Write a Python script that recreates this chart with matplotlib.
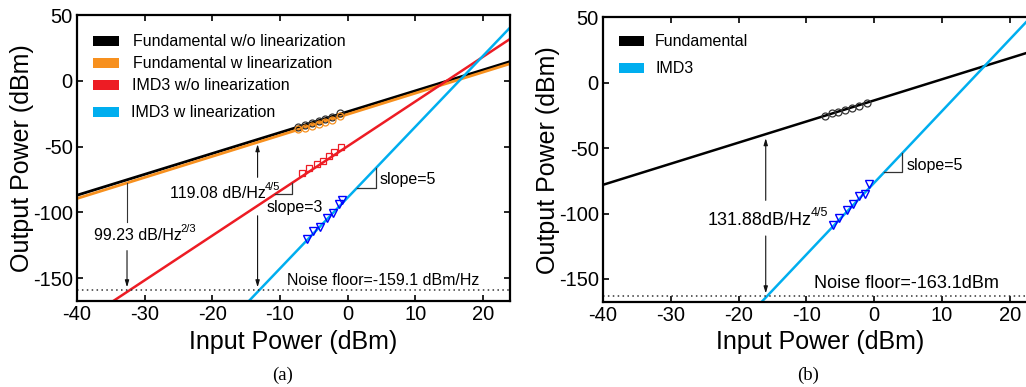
import numpy as np
import matplotlib
matplotlib.use('Agg')
import matplotlib.pyplot as plt
from matplotlib.patches import Rectangle

plt.rcParams['font.family'] = ['Liberation Sans', 'DejaVu Sans']
plt.rcParams['axes.unicode_minus'] = False

# ---- panel (a) data ----
a_fund_wo_x = [-40, 24]
a_fund_wo_y = [-87.0, 14.6]
a_fund_w_x = [-40, 24]
a_fund_w_y = [-89.5, 13.0]
a_imd_wo_x = [-34.5, 24]
a_imd_wo_y = [-167.0, 31.8]
a_imd_w_x = [-14.5, 24]
a_imd_w_y = [-167.0, 40.4]

a_circ_x = [-7.26, -6.27, -5.30, -4.26, -3.27, -2.30, -1.11]
a_circ_wo_y = [-34.8, -33.5, -32.2, -30.5, -29.0, -27.2, -24.6]
a_circ_w_y = [-37.0, -35.8, -34.5, -32.8, -31.3, -29.5, -27.0]
a_sq_x = [-6.67, -5.63, -4.45, -3.57, -2.68, -1.95, -0.91]
a_sq_y = [-70.1, -66.3, -63.2, -60.9, -57.1, -54.1, -50.3]
a_tri_x = [-6.03, -5.14, -4.06, -3.08, -2.20, -1.31, -0.82]
a_tri_y = [-120.6, -114.2, -111.0, -104.6, -100.8, -93.7, -90.6]
a_noise = -159.1

# ---- panel (b) data ----
b_fund_x = [-40, 24]
b_fund_y = [-78.0, 25.3]
b_imd_x = [-16.6, 24]
b_imd_y = [-167.5, 55.2]
b_circ_x = [-7.26, -6.27, -5.28, -4.28, -3.30, -2.18, -1.09]
b_circ_y = [-25.2, -23.4, -22.2, -20.9, -19.1, -17.9, -15.8]
b_tri_x = [-6.03, -5.15, -4.06, -3.08, -2.20, -1.36, -0.72]
b_tri_y = [-108.9, -103.7, -96.9, -92.3, -86.7, -85.2, -77.7]
b_noise = -163.1

BLACK = '#000000'
ORANGE = '#f7901e'
RED = '#ed1c24'
CYAN = '#00aeef'
BLUE = '#0000ff'
ARROW = dict(arrowstyle='-|>,head_length=0.4,head_width=0.12', color='#111111', lw=0.8)


def line_at(xs, ys, x):
    # straight line through the two end points
    return ys[0] + (x - xs[0]) * (ys[1] - ys[0]) / (xs[1] - xs[0])


def style_axes(ax, ylim):
    ax.set_xlim(-40, 24)
    ax.set_ylim(*ylim)
    ax.set_xticks(np.arange(-40, 21, 10))
    ax.set_yticks(np.arange(-150, 51, 50))
    ax.tick_params(direction='in', top=True, right=True, length=4, width=1.2,
                   labelsize=14.5, pad=3)
    for s in ax.spines.values():
        s.set_linewidth(1.6)
    ax.set_xlabel('Input Power (dBm)', fontsize=18)
    ax.set_ylabel('Output Power (dBm)', fontsize=18)
    ax.yaxis.set_label_coords(-0.10, 0.5)
    ax.xaxis.set_label_coords(0.5, -0.10)


def slope_mark(ax, xs, ys, x0, dx, text, tx, ty, size=11.5):
    y0 = line_at(xs, ys, x0)
    y1 = line_at(xs, ys, x0 + dx)
    ax.plot([x0, x0 + dx, x0 + dx], [y0, y0, y1], color='#333333', lw=0.9)
    ax.text(tx, ty, text, fontsize=size, va='center', ha='left')


def legend_rows(ax, rows):
    for color, label, y, x0, x1, xt in rows:
        ax.add_patch(Rectangle((x0, y - 0.017), x1 - x0, 0.034, transform=ax.transAxes,
                               facecolor=color, edgecolor='none', clip_on=False))
        ax.text(xt, y, label, transform=ax.transAxes, fontsize=11.5, va='center', ha='left')


def sup_text(ax, x, y, main, sup, size, supsize):
    t = ax.text(x, y, main, fontsize=size, va='center', ha='left')
    ax.annotate(sup, xy=(0.99, 0.55), xycoords=t, fontsize=supsize, va='bottom', ha='left')
    return t


fig = plt.figure(figsize=(10.26, 3.87), dpi=100)
ax1 = fig.add_axes([0.0750, 0.222, 0.422, 0.739])
ax2 = fig.add_axes([0.5877, 0.220, 0.423, 0.735])

# ---------------- (a) ----------------
ax1.plot(a_fund_wo_x, a_fund_wo_y, color=BLACK, lw=2)
ax1.plot(a_fund_w_x, a_fund_w_y, color=ORANGE, lw=2)
ax1.plot(a_imd_wo_x, a_imd_wo_y, color=RED, lw=1.8)
ax1.plot(a_imd_w_x, a_imd_w_y, color=CYAN, lw=1.8)
ax1.plot(a_circ_x, a_circ_wo_y, 'o', mfc='none', mec='#333333', ms=5, mew=0.9)
ax1.plot(a_circ_x, a_circ_w_y, 'o', mfc='none', mec=ORANGE, ms=5, mew=0.9)
ax1.plot(a_sq_x, a_sq_y, 's', mfc='none', mec=RED, ms=4.5, mew=0.9)
ax1.plot(a_tri_x, a_tri_y, 'v', mfc='none', mec=BLUE, ms=5.5, mew=1.0)
ax1.axhline(a_noise, color='#333333', ls=(0, (1, 2.2)), lw=1.1)
style_axes(ax1, (-167.5, 50))

ax1.text(-9.0, -152, 'Noise floor=-159.1 dBm/Hz', fontsize=11.5, va='center', ha='left')

# 99.23 arrow
xa = -32.6
ax1.plot([xa, xa], [line_at(a_fund_w_x, a_fund_w_y, xa), -107.0], color='#333333', lw=0.8)
ax1.annotate('', xy=(xa, a_noise), xytext=(xa, -127.0), arrowprops=ARROW)
sup_text(ax1, -37.5, -117.3, '99.23 dB/Hz', '2/3', 11.5, 8)

# 119.08 arrow
xb = -13.3
ax1.annotate('', xy=(xb, line_at(a_fund_wo_x, a_fund_wo_y, xb) - 1.5), xytext=(xb, -75.5),
             arrowprops=ARROW)
ax1.annotate('', xy=(xb, a_noise), xytext=(xb, -100.5), arrowprops=ARROW)
sup_text(ax1, -26.3, -85.3, '119.08 dB/Hz', '4/5', 11.5, 8)

slope_mark(ax1, a_imd_wo_x, a_imd_wo_y, -10.75, 2.6, 'slope=3', -12.0, -96.0)
slope_mark(ax1, a_imd_w_x, a_imd_w_y, 1.41, 2.8, 'slope=5', 4.8, -75.4)

legend_rows(ax1, [
    (BLACK, 'Fundamental w/o linearization', 0.909, 0.037, 0.096, 0.129),
    (ORANGE, 'Fundamental w linearization', 0.832, 0.037, 0.096, 0.129),
    (RED, 'IMD3 w/o linearization', 0.755, 0.037, 0.096, 0.127),
    (CYAN, 'IMD3 w linearization', 0.660, 0.037, 0.096, 0.125),
])

# ---------------- (b) ----------------
ax2.plot(b_fund_x, b_fund_y, color=BLACK, lw=1.8)
ax2.plot(b_imd_x, b_imd_y, color=CYAN, lw=1.8)
ax2.plot(b_circ_x, b_circ_y, 'o', mfc='none', mec='#333333', ms=5, mew=0.9)
ax2.plot(b_tri_x, b_tri_y, 'v', mfc='none', mec=BLUE, ms=5.5, mew=1.0)
ax2.axhline(b_noise, color='#333333', ls=(0, (1, 2.2)), lw=1.1)
style_axes(ax2, (-167.5, 50))
ax2.spines['right'].set_visible(False)

ax2.text(-8.9, -153.8, 'Noise floor=-163.1dBm', fontsize=13, va='center', ha='left')

xc = -16.0
ax2.annotate('', xy=(xc, line_at(b_fund_x, b_fund_y, xc) - 1.0), xytext=(xc, -92.0),
             arrowprops=ARROW)
ax2.annotate('', xy=(xc, b_noise), xytext=(xc, -115.0), arrowprops=ARROW)
sup_text(ax2, -24.5, -105.0, '131.88dB/Hz', '4/5', 13, 9)

slope_mark(ax2, b_imd_x, b_imd_y, 1.5, 2.6, 'slope=5', 4.7, -62.9)

legend_rows(ax2, [
    (BLACK, 'Fundamental', 0.917, 0.037, 0.094, 0.120),
    (CYAN, 'IMD3', 0.822, 0.037, 0.094, 0.120),
])

fig.text(283 / 1026, 1 - 375 / 387, '(a)', family='Liberation Serif', fontsize=13.5,
         ha='center', va='center')
fig.text(808 / 1026, 1 - 375 / 387, '(b)', family='Liberation Serif', fontsize=13.5,
         ha='center', va='center')

fig.savefig('out.png', dpi=100)
